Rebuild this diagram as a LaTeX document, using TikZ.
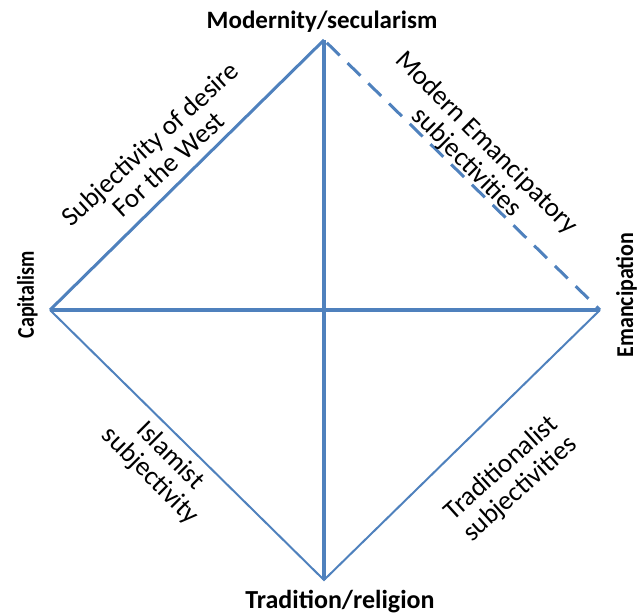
\documentclass[tikz,border=0pt]{standalone}
\usepackage{fontspec}
\setmainfont{Carlito}
\begin{document}
\begin{tikzpicture}[x=1pt,y=-1pt,
  edge/.style={draw=edgeblue,line width=2pt},
  axis/.style={draw=edgeblue,line width=4pt},
  pole/.style={font=\bfseries,inner sep=0pt,anchor=base},
  tag/.style={font=\fontsize{27}{28}\selectfont,align=center,inner sep=0pt}]
\definecolor{edgeblue}{HTML}{4F81BD}
\useasboundingbox (0,0) rectangle (638,615);
% diamond corners
\coordinate (T) at (324,40);
\coordinate (L) at (50,310);
\coordinate (R) at (600,310);
\coordinate (B) at (324,580);
% edges
\draw[edge,line width=3pt] (L) -- (T);
\draw[edge,line width=3pt,dash pattern=on 18pt off 11pt,shorten <=4pt] (T) -- (R);
\draw[edge] (L) -- (B) -- (R);
\draw[axis] (T) -- (B);
\draw[axis] (L) -- (R);
% poles
\node[pole,font=\bfseries\fontsize{25}{26}\selectfont] (mod) at (322,29) {Modernity/secularism};
\node[pole,font=\bfseries\fontsize{26}{27}\selectfont] (trad) at (340,608) {Tradition/religion};
\node[pole,font=\bfseries\fontsize{20}{22}\selectfont,rotate=90] (cap) at (34,295) {\scalebox{1}[1.2]{Capitalism}};
\node[pole,font=\bfseries\fontsize{22}{24}\selectfont,rotate=90] (eman) at (633,295) {\scalebox{1}[1.1]{Emancipation}};
% subjectivities
\node[tag,rotate=42.5] (desire) at (159,154) {Subjectivity of desire\\For the West};
\node[tag,rotate=-45] (modem) at (476,153) {Modern Emancipatory\\subjectivities};
\node[tag,rotate=-45] (islam) at (160,466) {Islamist\\subjectivity};
\node[tag,rotate=42] (tradi) at (511,479) {Traditionalist\\subjectivities};
\end{tikzpicture}
\end{document}
